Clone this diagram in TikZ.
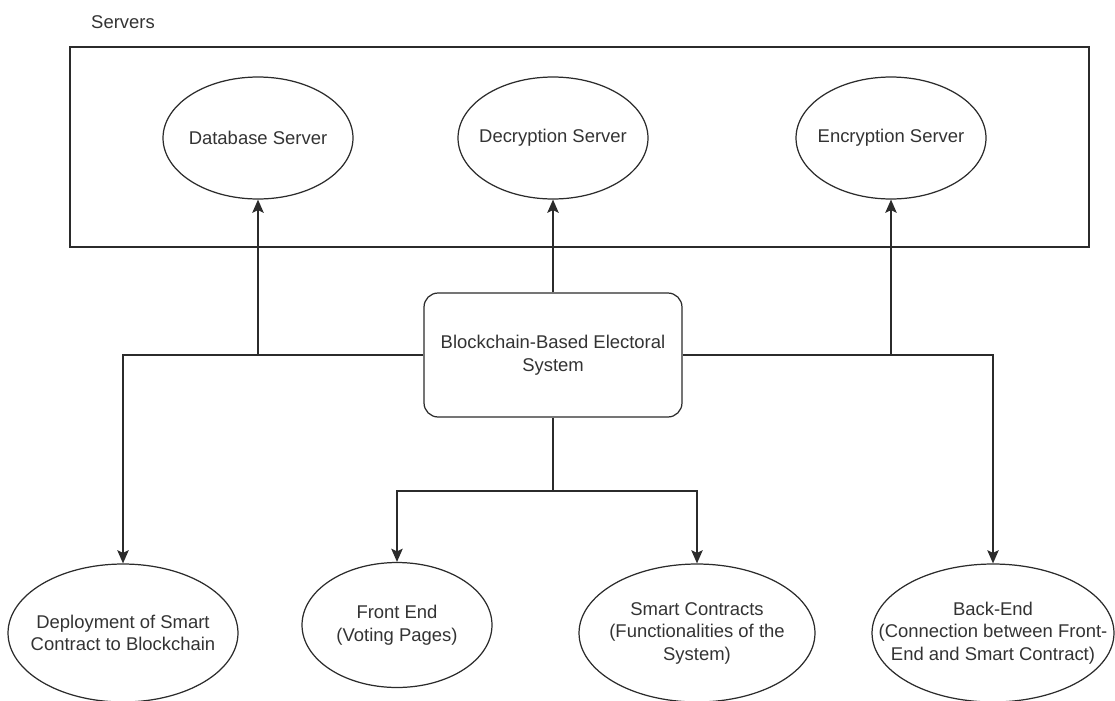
\documentclass[tikz,border=0pt]{standalone}
\usepackage{fontspec}
\setmainfont{Liberation Sans}
\usepackage{tikz}
\usetikzlibrary{shapes.geometric,arrows.meta,positioning,calc}
\definecolor{lineink}{HTML}{2B2B2B}
\definecolor{textink}{HTML}{333333}

\begin{document}
\begin{tikzpicture}[
  x=0.02cm,y=-0.02cm,
  server/.style={ellipse,draw=lineink,line width=0.7pt,minimum width=3.8cm,minimum height=2.44cm,
    inner xsep=-8pt,inner ysep=0pt,font=\fontsize{10.5}{12.8}\selectfont,align=center,text=textink},
  part/.style={ellipse,draw=lineink,line width=0.7pt,minimum width=#1,minimum height=2.76cm,
    inner xsep=-8pt,inner ysep=0pt,font=\fontsize{10.5}{12.8}\selectfont,align=center,text=textink},
  core/.style={rectangle,rounded corners=8pt,draw=lineink,line width=0.7pt,minimum width=5.16cm,
    minimum height=2.48cm,font=\fontsize{10.5}{12.8}\selectfont,align=center,text=textink},
  link/.style={draw=lineink,line width=0.8pt},
  arr/.style={link,-{Stealth[width=6.5pt,length=7.5pt,inset=1.5pt]}},
]
  \useasboundingbox (0,0) rectangle (1115,700);
  % server group
  \node[font=\fontsize{10.5}{12}\selectfont,text=textink] (srvlabel) at (123,22) {Servers};
  \draw[lineink,line width=0.8pt] (70,47) rectangle (1089,247);
  \node[server] (db) at (258,138) {Database Server};
  \node[server] (dec) at (553,138) {Decryption Server};
  \node[server] (enc) at (891,138) {Encryption Server};
  % main system
  \node[core] (sys) at (553,355) {Blockchain-Based Electoral\\System};
  % parts
  \node[part=4.6cm] (deploy) at (123,633) {Deployment of Smart\\Contract to Blockchain};
  \node[part=3.8cm,minimum height=2.5cm] (front) at (397,625) {Front End\\(Voting Pages)};
  \node[part=4.72cm] (contracts) at (697,633) {Smart Contracts\\(Functionalities of the\\System)};
  \node[part=4.84cm,inner xsep=-18pt] (back) at (993,633) {Back-End\\(Connection between Front-\\End and Smart Contract)};
  \coordinate (split) at (553,491);
  % connectors
  \draw[arr] (sys.north) -- (dec.south);
  \draw[arr] (db.south |- sys.west) -- (db.south);
  \draw[arr] (enc.south |- sys.east) -- (enc.south);
  \draw[arr] (sys.west) -| (deploy.north);
  \draw[arr] (sys.east) -| (back.north);
  \draw[link] (sys.south) -- (split);
  \draw[arr] (split) -| (front.north);
  \draw[arr] (split) -| (contracts.north);
\end{tikzpicture}
\end{document}
